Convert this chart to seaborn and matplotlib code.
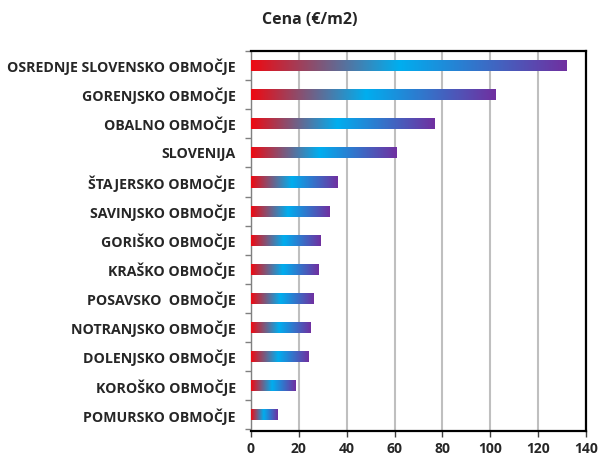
import numpy as np
import pandas as pd
import matplotlib
import matplotlib.pyplot as plt
import seaborn as sns
from matplotlib.colors import LinearSegmentedColormap

regions = ['OSREDNJE SLOVENSKO OBMOČJE', 'GORENJSKO OBMOČJE', 'OBALNO OBMOČJE',
           'SLOVENIJA', 'ŠTAJERSKO OBMOČJE', 'SAVINJSKO OBMOČJE', 'GORIŠKO OBMOČJE',
           'KRAŠKO OBMOČJE', 'POSAVSKO  OBMOČJE', 'NOTRANJSKO OBMOČJE',
           'DOLENJSKO OBMOČJE', 'KOROŠKO OBMOČJE', 'POMURSKO OBMOČJE']
prices = [132, 102, 76.5, 61, 36, 33, 29, 28, 26, 25, 24, 18.7, 11]
xticks = [0, 20, 40, 60, 80, 100, 120, 140]

df = pd.DataFrame({'region': regions, 'cena': prices})

sns.set_theme(style='white')
plt.rcParams['font.family'] = ['Open Sans', 'DejaVu Sans']

fig = plt.figure(figsize=(5.98, 4.55), dpi=100)
ax = fig.add_axes([0.4197, 0.053, 0.5603, 0.835])

sns.barplot(data=df, x='cena', y='region', orient='h', width=0.38,
            color='#00aeef', ax=ax, zorder=3)

# gradient fill per bar: red -> cyan -> purple
grad = LinearSegmentedColormap.from_list('g', [(0, '#ee0a12'), (0.47, '#00aeef'), (1, '#7030a0')])
img = np.linspace(0, 1, 256).reshape(1, -1)
for p in ax.patches:
    x0, y0 = p.get_x(), p.get_y()
    w, h = p.get_width(), p.get_height()
    im = ax.imshow(img, cmap=grad, aspect='auto', extent=[x0, x0 + w, y0 + h, y0],
                   zorder=4, interpolation='bilinear')
    im.set_clip_path(p)
    p.set_facecolor('none')
    p.set_edgecolor('none')

ax.set_xlim(0, 140)
ax.set_ylim(len(regions) - 0.45, -0.5)
ax.set_xticks(xticks)
ax.set_xticklabels([str(t) for t in xticks], fontsize=10, fontweight='bold')
ax.set_yticks(range(len(regions)))
ax.set_yticklabels(regions, fontsize=10.2, fontweight='bold')
ax.tick_params(axis='y', length=0, pad=11)
ax.tick_params(axis='x', length=4, width=1, color='#404040', direction='out', pad=4, bottom=True)
ax.set_yticks(np.arange(-0.5, len(regions), 1), minor=True)
ax.tick_params(axis='y', which='minor', length=4, color='#808080', left=True)
ax.set_xlabel('')
ax.set_ylabel('')

ax.grid(axis='x', color='#bfbfbf', linewidth=1.5, zorder=0)
ax.set_axisbelow(True)
for s in ['top', 'right', 'bottom']:
    ax.spines[s].set_color('black')
    ax.spines[s].set_linewidth(1.6)
ax.spines['left'].set_color('#808080')
ax.spines['left'].set_linewidth(1.0)

fig.text(0.518, 0.956, 'Cena (€/m2)', fontsize=11.5, fontweight='bold', ha='center', va='center')

fig.savefig('out.png', dpi=100)
